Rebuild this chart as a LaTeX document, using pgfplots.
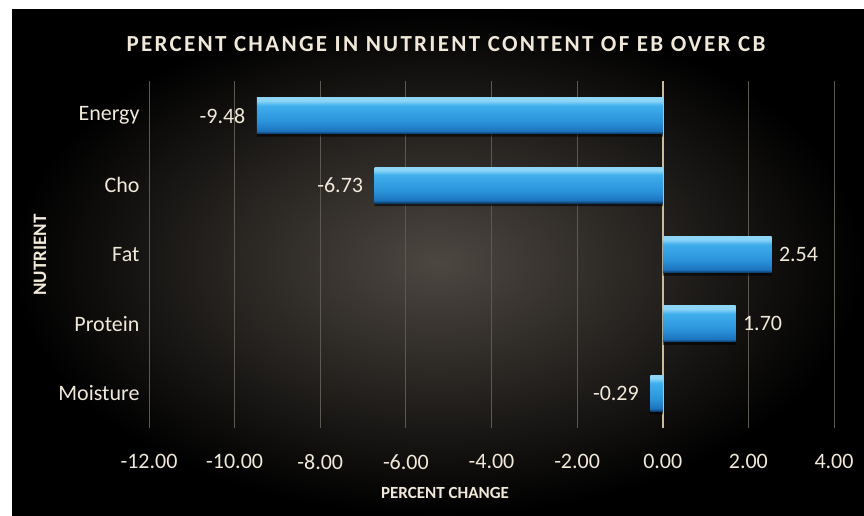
\documentclass[border=0pt]{standalone}
\usepackage{pgfplots}
\pgfplotsset{compat=1.18}
\usepackage{fontspec}
\setmainfont{Carlito}

\definecolor{bgc}{HTML}{4D4741}
\definecolor{txt}{HTML}{F0E8D8}
\definecolor{zeroc}{HTML}{C9BB9E}
\definecolor{gridc}{HTML}{5E5852}
\definecolor{b1}{HTML}{8ED6F8}
\definecolor{b2}{HTML}{3FAEEC}
\definecolor{b3}{HTML}{2A93DA}
\definecolor{b4}{HTML}{1D74BE}
\definecolor{b5}{HTML}{0C3A63}

% path box maps onto 25bp..75bp
\pgfdeclareverticalshading{barshade}{100bp}{%
  color(0bp)=(b5); color(25bp)=(b5); color(29bp)=(b4); color(42bp)=(b3);
  color(64bp)=(b2); color(71bp)=(b1); color(75bp)=(b1); color(100bp)=(b1)}

\pgfplotsset{
  negbar/.style={xbar, bar shift=0pt, draw=none, shading=barshade,
    nodes near coords style={anchor=east, xshift=-8pt}},
  posbar/.style={xbar, bar shift=0pt, draw=none, shading=barshade,
    nodes near coords style={anchor=west, xshift=4pt}},
}

\begin{document}
\begin{tikzpicture}[x=1pt,y=1pt]
\fill[white] (0,0) rectangle (864,515);
\shade[inner color=bgc, outer color=black] (12,0) rectangle (864,505);

\node[txt, font=\fontsize{23}{27}\selectfont\bfseries\addfontfeature{LetterSpace=10}] at (446,471)
  {PERCENT CHANGE IN NUTRIENT CONTENT OF EB OVER CB};
\node[txt, font=\fontsize{17}{20}\selectfont\bfseries] at (445,22) {PERCENT CHANGE};
\node[txt, font=\fontsize{19}{22}\selectfont\bfseries, rotate=90] at (40,260) {NUTRIENT};

\begin{axis}[
  at={(149pt,87pt)}, anchor=south west,
  scale only axis, width=685pt, height=347pt,
  xmin=-12, xmax=4, ymin=-0.5, ymax=4.5,
  xtick={-12,-10,...,4},
  ytick={0,1,2,3,4},
  yticklabels={Moisture,Protein,Fat,Cho,Energy},
  axis line style={draw=none},
  major tick length=0pt,
  xmajorgrids, grid style={gridc, line width=0.8pt},
  extra x ticks={0}, extra x tick labels={},
  extra x tick style={grid style={zeroc, line width=1.8pt}},
  ticklabel style={txt, font=\fontsize{22}{26}\selectfont},
  xticklabel style={yshift=-23pt},
  yticklabel style={xshift=-6pt},
  /pgf/number format/.cd, fixed, fixed zerofill, precision=2, assume math mode=true,
  /pgfplots/.cd,
  xbar, bar width=36pt,
  point meta=x,
  nodes near coords={\pgfmathprintnumber[fixed,fixed zerofill,precision=2,assume math mode=true]{\pgfplotspointmeta}},
  nodes near coords style={txt, font=\fontsize{22}{26}\selectfont},
]
% shadow under the bars
\addplot[xbar, bar shift=-3pt, draw=none, fill=black, fill opacity=0.55, nodes near coords={}]
  coordinates {(-9.48,4) (-6.73,3) (2.54,2) (1.70,1) (-0.29,0)};
% one plot per bar, so that each bar gets its own shading
\addplot[negbar] coordinates {(-9.48,4)}; % Energy
\addplot[negbar] coordinates {(-6.73,3)}; % Cho
\addplot[posbar] coordinates {(2.54,2)};  % Fat
\addplot[posbar] coordinates {(1.70,1)};  % Protein
\addplot[negbar] coordinates {(-0.29,0)}; % Moisture
\end{axis}
\end{tikzpicture}
\end{document}
